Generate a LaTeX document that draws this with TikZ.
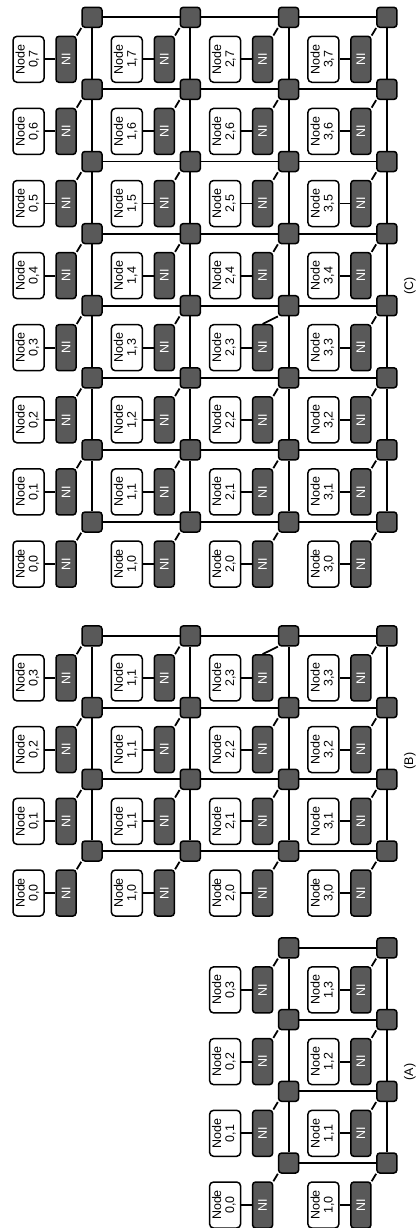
\documentclass[tikz,border=0pt]{standalone}
\usepackage{fontspec}
\setmainfont{Liberation Sans}
\usepackage{graphicx}
\definecolor{routergray}{HTML}{595959}
\tikzset{
  x=1pt, y=-1pt,
  conn/.style={line width=1.8pt},
  txt/.style={font=\fontsize{12.5}{13}\selectfont},
  router/.style={draw, line width=1.5pt, fill=routergray, rounded corners=3pt,
    minimum width=20pt, minimum height=20pt, inner sep=0pt},
  nibox/.style={draw, line width=1.5pt, fill=routergray, rounded corners=3pt,
    minimum width=20pt, minimum height=46pt, inner sep=0pt, text=white, txt},
  nodebox/.style={draw, line width=1.5pt, fill=white, rounded corners=4pt,
    minimum width=31pt, minimum height=46pt, inner sep=0pt, txt},
  caption/.style={rotate=90, inner sep=0pt, txt},
}
\newcommand\twoline[2]{\rotatebox{90}{\begin{tabular}{@{}c@{}}#1\\#2\end{tabular}}}
\begin{document}
\begin{tikzpicture}
\useasboundingbox (0,0) rectangle (417,1228);
% ---------------- (C) ----------------
\foreach \i in {0,...,3}{
  \foreach \j in {0,...,7}{
    \pgfmathsetmacro\rx{92+98.3*\i}
    \pgfmathsetmacro\ry{522-72.1*\j}
    \ifnum\i\j=23 \def\anc{north}\else\def\anc{north east}\fi
    \node[router] (C-r-\i-\j) at (\rx,\ry) {};
    \node[nibox] (C-ni-\i-\j) at (\rx-26,\ry+42) {\rotatebox{90}{NI}};
    \node[nodebox] (C-n-\i-\j) at (\rx-63.5,\ry+42) {\twoline{Node}{\i,\j}};
    \draw[conn] (C-n-\i-\j) -- (C-ni-\i-\j);
    \draw[conn] (C-ni-\i-\j.\anc) -- (C-r-\i-\j.south west);
  }
}
\foreach \i [evaluate=\i as \k using int(\i+1)] in {0,1,2}{
  \foreach \j in {0,...,7}{ \draw[conn] (C-r-\i-\j) -- (C-r-\k-\j); }
}
\foreach \i in {0,...,3}{
  \foreach \j [evaluate=\j as \k using int(\j+1)] in {0,...,6}{ \draw[conn] (C-r-\i-\j) -- (C-r-\i-\k); }
}
\node[caption] (capC) at (410,286) {(C)};
% ---------------- (B) ----------------
\foreach \i in {0,...,3}{
  \foreach \j in {0,...,3}{
    \pgfmathsetmacro\rx{92+98.3*\i}
    \pgfmathsetmacro\ry{851-71.7*\j}
    \ifnum\i\j=23 \def\anc{north}\else\def\anc{north east}\fi
    \edef\lab{\i,\j}
    \ifnum\i=1 \ifnum\j>0 \def\lab{1,1}\fi\fi
    \node[router] (B-r-\i-\j) at (\rx,\ry) {};
    \node[nibox] (B-ni-\i-\j) at (\rx-26,\ry+42) {\rotatebox{90}{NI}};
    \node[nodebox] (B-n-\i-\j) at (\rx-63.5,\ry+42) {\twoline{Node}{\lab}};
    \draw[conn] (B-n-\i-\j) -- (B-ni-\i-\j);
    \draw[conn] (B-ni-\i-\j.\anc) -- (B-r-\i-\j.south west);
  }
}
\foreach \i [evaluate=\i as \k using int(\i+1)] in {0,1,2}{
  \foreach \j in {0,...,3}{ \draw[conn] (B-r-\i-\j) -- (B-r-\k-\j); }
}
\foreach \i in {0,...,3}{
  \foreach \j [evaluate=\j as \k using int(\j+1)] in {0,1,2}{ \draw[conn] (B-r-\i-\j) -- (B-r-\i-\k); }
}
\node[caption] (capB) at (410,761) {(B)};
% ---------------- (A) ----------------
\foreach \i in {0,1}{
  \foreach \j in {0,...,3}{
    \pgfmathsetmacro\rx{288.6+98.3*\i}
    \pgfmathsetmacro\ry{1163-71.7*\j}
    \node[router] (A-r-\i-\j) at (\rx,\ry) {};
    \node[nibox] (A-ni-\i-\j) at (\rx-26,\ry+42) {\rotatebox{90}{NI}};
    \node[nodebox] (A-n-\i-\j) at (\rx-63.5,\ry+42) {\twoline{Node}{\i,\j}};
    \draw[conn] (A-n-\i-\j) -- (A-ni-\i-\j);
    \draw[conn] (A-ni-\i-\j.north east) -- (A-r-\i-\j.south west);
  }
}
\foreach \j in {0,...,3}{ \draw[conn] (A-r-0-\j) -- (A-r-1-\j); }
\foreach \i in {0,1}{
  \foreach \j [evaluate=\j as \k using int(\j+1)] in {0,1,2}{ \draw[conn] (A-r-\i-\j) -- (A-r-\i-\k); }
}
\node[caption] (capA) at (410,1072) {(A)};
\end{tikzpicture}
\end{document}
